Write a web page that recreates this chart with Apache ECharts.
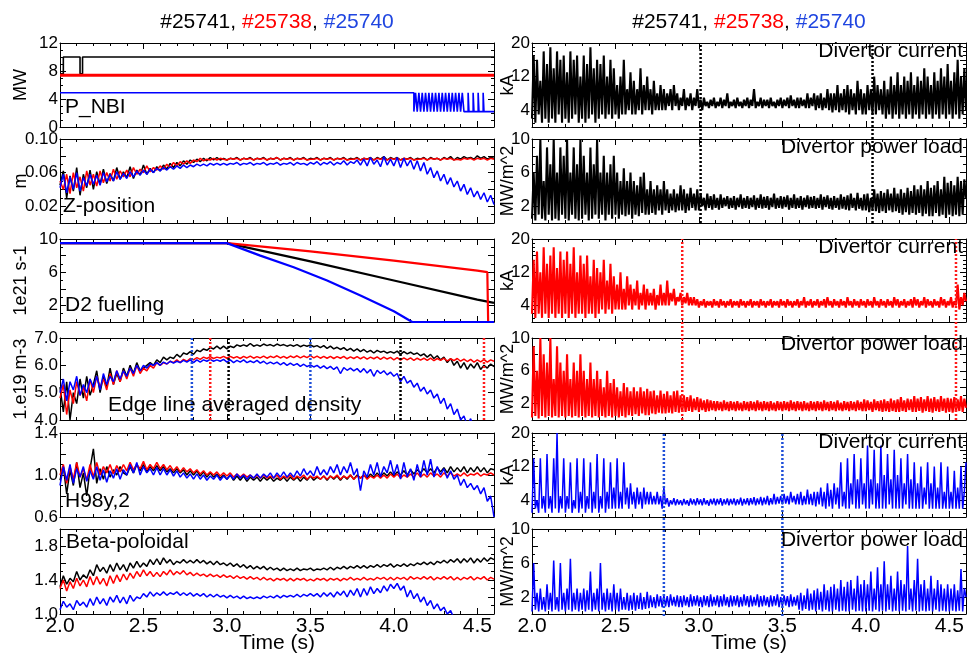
<!DOCTYPE html>
<html>
<head>
<meta charset="utf-8">
<script src="https://cdn.jsdelivr.net/npm/echarts@6/dist/echarts.min.js"></script>
<style>
  html, body { margin: 0; padding: 0; background: #fff; }
  #chart { width: 971px; height: 655px; }
</style>
</head>
<body>
<div id="chart"></div>
<script>
// time base: every noisy trace starts at 2.0 s, sampled with a fixed step
const T0 = 2.0;
const TEND = 4.6;
const DT_L = 0.02; // left column traces
const DT_R = 0.01; // divertor traces

// ---- P_NBI (MW), step traces: time of each change and the new value
const nbiBlackT = [2.0, 2.02, 2.12, 2.135, 4.6];
const nbiBlackV = [7.6, 10, 7.6, 10, 10];
const nbiRedT = [2.0, 4.6];
const nbiRedV = [7.4, 7.4];
const nbiBlueT = [2.0, 4.12, 4.13, 4.14, 4.15, 4.16, 4.17, 4.18, 4.19, 4.20, 4.21, 4.22, 4.23, 4.24, 4.25,
  4.26, 4.27, 4.28, 4.29, 4.30, 4.31, 4.32, 4.33, 4.34, 4.35, 4.36, 4.37, 4.38, 4.39, 4.40, 4.41, 4.42,
  4.445, 4.45, 4.475, 4.48, 4.505, 4.51, 4.535, 4.54, 4.6];
const nbiBlueV = [4.9, 2.2, 4.9, 2.2, 4.9, 2.2, 4.9, 2.2, 4.9, 2.2, 4.9, 2.2, 4.9, 2.2, 4.9,
  2.2, 4.9, 2.2, 4.9, 2.2, 4.9, 2.2, 4.9, 2.2, 4.9, 2.2, 4.9, 2.2, 4.9, 2.2, 4.9, 2.2,
  4.9, 2.2, 4.9, 2.2, 4.9, 2.2, 4.9, 2.2, 2.2];

// ---- Z-position (m)
const zBlack = [
  .045,.062,.030,.056,.038,.066,.033,.058,.042,.063,
  .040,.061,.046,.064,.047,.059,.050,.066,.052,.061,
  .054,.067,.053,.063,.057,.069,.058,.065,.060,.067,
  .062,.069,.064,.071,.066,.072,.068,.074,.070,.075,
  .072,.076,.073,.077,.074,.078,.075,.078,.075,.077,
  .075,.077,.076,.078,.075,.077,.076,.078,.075,.077,
  .076,.078,.075,.077,.076,.078,.075,.077,.076,.078,
  .075,.077,.076,.078,.075,.077,.076,.078,.075,.077,
  .076,.078,.075,.077,.076,.078,.075,.077,.076,.078,
  .075,.077,.076,.078,.075,.078,.076,.079,.075,.078,
  .076,.078,.075,.077,.076,.078,.075,.077,.076,.078,
  .075,.078,.076,.077,.075,.078,.076,.079,.075,.078,
  .076,.079,.077,.078,.076,.080,.077,.079,.076,.078,
  .077];
const zRed = [
  .050,.040,.058,.035,.060,.042,.055,.038,.062,.045,
  .058,.044,.062,.048,.060,.050,.064,.052,.062,.055,
  .063,.055,.066,.058,.064,.060,.068,.061,.066,.063,
  .068,.064,.070,.066,.072,.068,.073,.070,.074,.071,
  .075,.073,.077,.074,.076,.075,.077,.075,.077,.076,
  .075,.077,.076,.077,.075,.077,.076,.077,.075,.077,
  .076,.077,.075,.077,.076,.078,.075,.077,.076,.077,
  .075,.077,.076,.077,.075,.076,.076,.077,.075,.077,
  .076,.077,.075,.077,.076,.077,.075,.076,.076,.077,
  .075,.077,.076,.077,.075,.077,.076,.077,.075,.077,
  .076,.077,.075,.077,.076,.077,.075,.076,.076,.077,
  .075,.077,.076,.077,.075,.077,.076,.077,.075,.076,
  .075,.077,.076,.077,.075,.077,.076,.077,.075,.077,
  .076];
const zBlue = [
  .042,.058,.036,.055,.040,.060,.038,.054,.044,.058,
  .046,.057,.045,.060,.049,.058,.050,.061,.052,.059,
  .053,.061,.055,.062,.057,.063,.058,.064,.060,.065,
  .062,.066,.063,.067,.064,.068,.065,.069,.066,.069,
  .067,.070,.068,.070,.068,.071,.069,.071,.069,.071,
  .069,.071,.070,.072,.069,.071,.070,.072,.069,.071,
  .070,.072,.069,.071,.070,.072,.069,.071,.070,.072,
  .069,.072,.070,.071,.069,.072,.070,.073,.069,.072,
  .070,.073,.069,.072,.070,.074,.069,.073,.071,.075,
  .069,.076,.068,.078,.070,.075,.067,.079,.069,.076,
  .068,.078,.066,.077,.068,.075,.064,.074,.062,.072,
  .058,.066,.054,.062,.050,.058,.046,.054,.043,.050,
  .038,.046,.034,.042,.031,.038,.028,.036,.025,.033,
  .022];

// ---- D2 fuelling (1e21 s-1), knots of the ramps
const d2BlackT = [2.0, 3.0, 3.5, 4.0, 4.5, 4.6];
const d2BlackV = [9.5, 9.5, 7.3, 5.0, 2.7, 2.3];
const d2RedT = [2.0, 3.0, 3.5, 4.0, 4.5, 4.56, 4.565, 4.6];
const d2RedV = [9.5, 9.5, 8.5, 7.4, 6.2, 6.0, 0, 0];
const d2BlueT = [2.0, 3.0, 3.2, 3.4, 3.6, 3.8, 4.0, 4.11, 4.6];
const d2BlueV = [9.5, 9.5, 8.0, 6.6, 5.0, 3.2, 1.3, 0, 0];

// ---- Edge line averaged density (1e19 m-3)
const neBlack = [
  5.2,4.3,5.4,4.0,5.0,4.6,5.5,4.8,5.6,4.9,
  5.3,5.8,5.0,5.6,5.2,5.9,5.3,5.7,5.4,5.9,
  5.6,6.0,5.7,6.1,5.8,5.9,6.0,6.1,6.0,6.2,
  6.1,6.3,6.2,6.3,6.25,6.4,6.3,6.45,6.4,6.5,
  6.4,6.55,6.5,6.6,6.55,6.65,6.6,6.7,6.6,6.7,
  6.6,6.7,6.65,6.75,6.7,6.75,6.7,6.8,6.7,6.75,
  6.7,6.78,6.72,6.76,6.7,6.78,6.72,6.76,6.7,6.75,
  6.7,6.76,6.68,6.74,6.7,6.75,6.68,6.72,6.65,6.72,
  6.62,6.7,6.6,6.66,6.58,6.65,6.55,6.62,6.52,6.6,
  6.5,6.58,6.48,6.55,6.45,6.55,6.48,6.52,6.45,6.5,
  6.45,6.52,6.4,6.5,6.42,6.48,6.4,6.45,6.35,6.42,
  6.3,6.4,6.25,6.35,6.2,6.3,6.1,6.25,6.0,6.15,
  5.9,6.1,5.85,6.05,5.9,6.1,5.85,6.0,5.9,6.05,
  5.95];
const neRed = [
  4.8,5.3,4.2,5.1,4.6,5.4,4.9,5.2,4.7,5.5,
  5.0,5.6,5.2,5.5,5.1,5.7,5.3,5.8,5.4,5.8,
  5.5,5.9,5.6,6.0,5.7,5.9,5.8,6.0,5.9,6.1,
  6.0,6.1,6.05,6.15,6.1,6.2,6.1,6.22,6.15,6.25,
  6.2,6.28,6.22,6.3,6.25,6.32,6.25,6.3,6.27,6.33,
  6.26,6.33,6.27,6.32,6.25,6.33,6.27,6.34,6.26,6.32,
  6.27,6.34,6.26,6.33,6.28,6.35,6.27,6.33,6.26,6.34,
  6.28,6.35,6.27,6.34,6.28,6.36,6.27,6.34,6.26,6.33,
  6.26,6.33,6.25,6.32,6.26,6.33,6.24,6.31,6.25,6.32,
  6.24,6.31,6.23,6.3,6.24,6.31,6.22,6.3,6.23,6.29,
  6.2,6.28,6.19,6.27,6.2,6.27,6.18,6.26,6.19,6.26,
  6.18,6.26,6.17,6.25,6.18,6.26,6.16,6.24,6.17,6.25,
  6.15,6.23,6.14,6.22,6.12,6.2,6.13,6.21,6.12,6.2,
  6.15];
const neBlue = [
  5.0,5.5,4.7,5.4,5.1,5.6,4.9,5.3,5.0,5.5,
  5.2,5.6,5.1,5.7,5.3,5.6,5.4,5.8,5.5,5.8,
  5.6,5.9,5.7,6.0,5.8,6.0,5.9,6.05,6.0,6.1,
  6.0,6.12,6.05,6.15,6.08,6.15,6.1,6.18,6.12,6.2,
  6.1,6.2,6.12,6.2,6.15,6.22,6.15,6.2,6.15,6.22,
  6.12,6.2,6.1,6.18,6.12,6.2,6.1,6.16,6.1,6.18,
  6.08,6.15,6.05,6.12,6.05,6.12,6.02,6.1,6.0,6.08,
  6.0,6.06,5.96,6.04,5.95,6.02,5.94,6.0,5.9,5.98,
  5.88,5.96,5.85,5.94,5.7,5.92,5.82,5.9,5.8,5.88,
  5.75,5.88,5.72,5.85,5.6,5.82,5.7,5.8,5.65,5.75,
  5.6,5.7,5.4,5.6,5.35,5.45,5.2,5.35,5.05,5.2,
  4.95,5.1,4.8,4.95,4.6,4.8,4.4,4.6,4.2,4.4,
  4.0,4.15,3.8,4.05,3.7,3.9,3.6,3.8,3.5,3.7,
  3.5];

// ---- H98y,2
const hBlack = [
  0.95,1.08,0.82,1.05,0.9,1.12,0.88,1.02,0.8,1.06,
  1.25,0.92,1.06,0.96,1.08,0.98,1.05,1.0,1.08,1.02,
  1.0,1.08,1.02,1.1,1.04,1.1,1.03,1.08,1.04,1.09,
  1.04,1.08,1.03,1.06,1.02,1.06,1.02,1.05,1.0,1.04,
  1.0,1.04,0.99,1.03,0.98,1.02,0.98,1.01,0.97,1.0,
  0.96,1.0,0.95,0.99,0.95,0.99,0.94,0.98,0.95,0.98,
  0.94,0.98,0.95,0.98,0.94,0.97,0.95,0.98,0.94,0.98,
  0.95,0.98,0.94,0.98,0.95,0.99,0.95,0.98,0.96,0.99,
  0.95,0.99,0.96,0.99,0.95,0.99,0.96,1.0,0.96,1.0,
  0.97,1.0,0.97,1.01,0.98,1.02,0.98,1.02,0.99,1.03,
  0.99,1.03,1.0,1.04,1.0,1.05,1.01,1.05,1.02,1.06,
  1.02,1.06,1.02,1.07,1.03,1.07,1.02,1.08,1.03,1.07,
  1.03,1.08,1.02,1.07,1.03,1.08,1.03,1.07,1.02,1.06,
  1.05];
const hRed = [
  1.0,1.1,0.92,1.08,0.96,1.12,0.98,1.06,0.95,1.1,
  0.98,1.12,1.0,1.08,1.02,1.1,1.01,1.09,1.03,1.1,
  1.04,1.12,1.05,1.1,1.06,1.13,1.05,1.1,1.06,1.12,
  1.06,1.1,1.05,1.09,1.04,1.08,1.03,1.07,1.03,1.06,
  1.02,1.05,1.01,1.04,1.0,1.03,1.0,1.03,0.99,1.02,
  0.99,1.02,0.98,1.01,0.98,1.01,0.98,1.0,0.97,1.0,
  0.97,1.0,0.97,0.99,0.97,1.0,0.96,0.99,0.97,1.0,
  0.96,0.99,0.97,1.0,0.96,0.99,0.97,0.99,0.96,0.99,
  0.96,0.99,0.97,1.0,0.96,0.99,0.97,1.0,0.96,0.99,
  0.97,1.0,0.96,0.99,0.97,1.0,0.97,1.0,0.97,1.01,
  0.98,1.01,0.97,1.0,0.98,1.01,0.98,1.02,0.98,1.01,
  0.98,1.02,0.99,1.01,0.98,1.02,0.99,1.02,0.99,1.01,
  0.99,1.02,0.99,1.01,1.0,1.02,0.99,1.01,1.0,1.02,
  1.0];
const hBlue = [
  0.9,1.08,0.95,1.1,0.92,1.06,0.98,1.08,0.94,1.04,
  0.96,1.08,0.95,1.05,0.93,1.04,0.97,1.06,0.96,1.05,
  1.0,1.1,1.02,1.12,1.0,1.08,1.02,1.06,1.0,1.07,
  1.0,1.06,1.0,1.05,0.99,1.04,0.98,1.02,0.97,1.01,
  0.96,1.01,0.96,1.0,0.95,0.99,0.96,1.0,0.95,0.99,
  0.96,1.0,0.96,1.01,0.97,1.0,0.96,1.0,0.97,1.01,
  0.97,1.01,0.98,1.02,0.97,1.02,0.98,1.03,0.98,1.02,
  0.98,1.04,0.99,1.06,1.0,1.04,0.99,1.08,1.0,1.05,
  1.0,1.08,1.02,1.1,1.0,1.08,1.02,1.12,1.0,1.06,
  0.85,1.04,0.98,1.1,1.0,1.12,0.98,1.08,1.02,1.14,
  1.0,1.1,0.96,1.12,0.98,1.06,0.95,1.1,0.98,1.14,
  1.0,1.15,0.98,1.08,1.0,1.06,0.97,1.04,0.96,1.0,
  0.9,0.96,0.88,0.92,0.86,0.9,0.82,0.88,0.75,0.8,
  0.6];

// ---- Beta-poloidal
const bpBlack = [
  1.32,1.45,1.35,1.42,1.38,1.5,1.4,1.46,1.42,1.52,
  1.45,1.58,1.5,1.55,1.48,1.58,1.5,1.6,1.52,1.58,
  1.5,1.6,1.54,1.62,1.55,1.6,1.56,1.64,1.58,1.65,
  1.58,1.66,1.6,1.64,1.58,1.62,1.6,1.64,1.6,1.63,
  1.6,1.64,1.6,1.63,1.59,1.62,1.58,1.62,1.58,1.6,
  1.57,1.6,1.56,1.59,1.55,1.58,1.54,1.57,1.53,1.56,
  1.53,1.56,1.52,1.55,1.52,1.54,1.51,1.54,1.51,1.53,
  1.51,1.54,1.51,1.53,1.52,1.54,1.51,1.53,1.52,1.54,
  1.52,1.55,1.52,1.55,1.53,1.56,1.53,1.56,1.54,1.57,
  1.54,1.57,1.54,1.57,1.55,1.58,1.55,1.58,1.56,1.59,
  1.55,1.58,1.56,1.59,1.56,1.59,1.57,1.6,1.58,1.61,
  1.58,1.61,1.58,1.62,1.6,1.63,1.6,1.64,1.61,1.65,
  1.6,1.65,1.61,1.66,1.6,1.65,1.61,1.66,1.62,1.66,
  1.64];
const bpRed = [
  1.3,1.4,1.27,1.38,1.3,1.42,1.33,1.4,1.32,1.44,
  1.34,1.44,1.35,1.42,1.33,1.45,1.36,1.46,1.38,1.47,
  1.4,1.48,1.42,1.5,1.44,1.52,1.45,1.5,1.44,1.49,
  1.44,1.5,1.46,1.52,1.46,1.5,1.47,1.51,1.46,1.49,
  1.45,1.48,1.45,1.47,1.44,1.47,1.44,1.46,1.43,1.46,
  1.43,1.45,1.42,1.45,1.42,1.44,1.41,1.44,1.41,1.43,
  1.4,1.43,1.4,1.42,1.39,1.42,1.4,1.42,1.39,1.42,
  1.39,1.42,1.4,1.42,1.39,1.41,1.39,1.42,1.4,1.42,
  1.39,1.42,1.4,1.42,1.39,1.42,1.4,1.43,1.4,1.42,
  1.4,1.43,1.4,1.42,1.4,1.43,1.41,1.43,1.4,1.43,
  1.4,1.43,1.41,1.43,1.4,1.44,1.41,1.43,1.41,1.44,
  1.41,1.44,1.4,1.43,1.41,1.44,1.41,1.44,1.4,1.43,
  1.4,1.43,1.41,1.44,1.4,1.43,1.41,1.44,1.4,1.43,
  1.41];
const bpBlue = [
  1.05,1.15,1.08,1.12,1.05,1.16,1.1,1.14,1.08,1.18,
  1.1,1.2,1.12,1.18,1.1,1.2,1.14,1.22,1.13,1.2,
  1.12,1.22,1.15,1.2,1.18,1.24,1.2,1.26,1.21,1.25,
  1.22,1.26,1.22,1.25,1.23,1.26,1.22,1.25,1.22,1.25,
  1.21,1.24,1.21,1.24,1.2,1.23,1.2,1.23,1.2,1.22,
  1.19,1.22,1.19,1.21,1.18,1.21,1.18,1.2,1.18,1.2,
  1.18,1.21,1.19,1.21,1.19,1.22,1.19,1.22,1.2,1.22,
  1.2,1.23,1.2,1.23,1.21,1.24,1.21,1.24,1.2,1.25,
  1.21,1.25,1.2,1.26,1.22,1.27,1.2,1.28,1.22,1.3,
  1.2,1.3,1.22,1.32,1.24,1.3,1.25,1.33,1.27,1.35,
  1.3,1.36,1.28,1.33,1.2,1.28,1.18,1.24,1.14,1.2,
  1.1,1.16,1.06,1.12,1.04,1.08,1.0,1.04,0.95,0.98,
  0.92,0.95,0.88,0.9,0.85,0.88,0.82,0.85,0.8,0.82,
  0.8];

// ---- Divertor current (kA) and power load (MW/m^2), 0.01 s samples
const divCurBlack = [
  2,17,1,16,3,11,1,18,2,15, 1,19,2,14,1,18,3,16,1,17,
  2,13,1,18,2,16,3,17,1,12, 2,17,1,15,2,19,3,14,1,16,
  2,15,3,17,2,12,3,16,2,14, 3,10,2,12,3,16,3,9,4,13,
  3,11,3,9,4,14,3,10,4,12, 4,9,3,11,4,8,4,10,4,9,
  4,8,5,9,4,10,5,8,4,7, 5,9,4,7,5,8,4,7,5,9,
  4.5,6.5,4,7,5,6,4.5,6.5,5,7, 4.5,6,5,7,4.5,6.5,5,8,4.5,6,
  5,6.5,4.5,7,5,6,4.5,6.5,5,7, 4.5,6.5,5,9,4.5,6,5,7,4.5,6.5,
  5,6.5,4.5,7,5,6,4.5,6.5,5,7, 4.5,6.5,5,7,4.5,7.5,5,6.5,4.5,7,
  4.5,7,5,6.5,4.5,8,4.5,7,5,8, 4,7.5,4.5,8,4,7,4.5,9,4,8,
  3.5,8,4,10,3.5,8,4,9,3.5,10, 3,9,4,8,3,11,4,9,3,8,
  3,10,4,9,3,12,3,10,4,9, 3,11,2,9,3,12,2,10,3,13,
  2,10,3,12,2,11,3,13,2,10, 3,12,2,11,3,14,2,12,3,10,
  2,13,3,11,2,14,3,12,2,15, 3,11,2,13,3,16,2,12,3,14,
  4];
const divPowBlack = [
  0.5,6,0.3,8,1,10,0.5,5,0.3,9, 1,7,0.3,10,0.5,6,0.3,9,1,8,
  0.5,10,0.3,6,1,9,0.5,7,0.3,10, 0.5,8,1,6,0.3,9,0.5,7,1,10,
  0.5,6,1,8,0.3,6,1,7,0.5,8, 1,6,0.5,5,1,6.5,0.8,5,1,6,
  0.5,5,1,4.5,0.8,5.5,1.2,6,1,4, 1,5,1.2,4,1,4.5,1.5,4,1,5,
  1.5,4,1.2,3.5,1.5,4,1.3,3.5,1.5,4.5, 1.5,4,1.2,3.5,1.5,4.2,1.8,3.5,1.5,4,
  1.5,3.5,2,3,1.5,3.5,1.8,3.2,1.6,3.4, 1.8,3,1.6,3.4,1.8,3,2,3.2,1.7,3,
  1.8,3.2,1.6,3,1.9,3.4,1.7,3,1.8,3.2, 1.7,3,1.9,3.3,1.6,3,1.8,3.4,1.7,3.1,
  1.8,3.2,1.6,3,1.9,3.5,1.7,3,1.8,3.2, 1.7,3.1,1.9,3.3,1.6,3,1.8,3.4,1.7,3,
  1.8,3.2,1.6,3,1.9,3.3,1.7,3.1,1.8,3.2, 1.7,3,1.8,3.4,1.6,3.1,1.9,3.3,1.7,3,
  1.6,3.2,1.8,3,1.6,3.4,1.7,3.1,1.6,3.3, 1.5,3.5,1.8,3,1.5,3.6,1.7,3,1.5,3.4,
  1.5,3.5,1.3,3,1.6,4,1.4,3.5,1.2,3.8, 1.4,3.6,1.2,4,1.5,3.5,1.3,4.2,1.4,3.5,
  1.2,4,1,3.6,1.3,4.2,1,3.8,1.2,4.5, 1,4,1.2,4.5,0.8,4,1.1,5,0.8,4.2,
  0.8,4.5,1.2,5,0.8,4,1,5.5,0.6,4.8, 1,5,0.8,4.5,1,5.5,0.8,5,1,5.2,
  3];
const divCurRed = [
  2,15,1,17,2,12,1,18,2,14, 1,16,2,18,1,13,2,17,1,15,
  2,17,1,14,2,18,1,12,2,16, 2,14,1,16,2,11,2,15,1,13,
  2,12,3,15,2,10,3,14,2,11, 3,9,3,12,3,8,3,11,4,9,
  3,8,4,10,3,7,4,9,3,8, 4,7,4,8,3,6.5,4,9,4,7,
  4,10,4,7,5,8,4,6,5,7, 4,6,4.5,7,4,6,4,6,4,5.5,
  3.5,5,4,5.5,3.5,5,4,5,3.5,5.5, 4,5,3.5,5.5,4,5,3.5,5,4,5.5,
  3.5,5,4,5,3.5,5.5,4,5,3.5,5, 4,5.5,3.5,5,4,5,3.5,5.5,4,5,
  3.5,5,4,5.5,3.5,5,4,5,3.5,5.5, 4,5,3.5,5.5,4,5,3.5,5,4,5.5,
  3.5,5,4,6,3.5,5,4,5.5,3.5,5, 4,5.5,3.5,5,4,5.5,3.5,6,4,5,
  3.5,5.5,4,5,3.5,5.5,4,5,3.5,6, 4,5,3.5,5.5,4,5,3.5,5.5,4,5,
  3.5,5.5,4,5,3.5,6,4,5,3.5,5.5, 4,5,3.5,5.5,4,5,3.5,6,4,5.5,
  3.5,5,4,5.5,3.5,5,4,5.5,3.5,6, 4,5.5,3.5,5,4,6,3.5,5.5,4,5,
  3.5,5.5,4,5,3.5,6,4,5.5,3.5,5, 4,6,3.5,5,4,9,3,6,4,7,
  5];
const divPowRed = [
  0.3,9,0.5,6,0.2,10,0.5,8,0.3,7, 0.5,10,0.3,5,0.5,9,0.3,7,0.5,6,
  0.3,8,0.5,5,0.3,7,0.5,6,0.3,8, 0.5,6,0.3,5,0.5,7,0.3,5,0.5,6,
  0.3,5,0.5,4,0.3,6,0.5,4.5,0.3,5, 0.5,4,0.3,3.5,0.5,4.5,0.3,4,0.6,3.5,
  0.5,4,0.7,3.5,0.5,4,0.8,3.5,0.6,3.8, 0.6,3.5,0.8,3.6,0.7,3,0.9,3.6,0.8,3.2,
  0.8,3.5,0.9,3,0.8,3.5,1,3.6,0.9,3, 1,3,1,2.8,1.1,3,1,2.6,1.2,2.8,
  1,2.6,1.2,2.4,1,2.5,1.1,2.4,1.2,2.3, 1.1,2.3,1.2,2.2,1.1,2.4,1.2,2.2,1.1,2.3,
  1.2,2.2,1.1,2.3,1.2,2.1,1.1,2.3,1.2,2.2, 1.1,2.3,1.2,2.2,1.1,2.4,1.2,2.2,1.1,2.3,
  1.2,2.2,1.1,2.3,1.2,2.1,1.1,2.3,1.2,2.2, 1.1,2.3,1.2,2.2,1.1,2.4,1.2,2.2,1.1,2.3,
  1.2,2.2,1.1,2.3,1.2,2.1,1.1,2.3,1.2,2.2, 1.1,2.3,1.2,2.2,1.1,2.4,1.2,2.2,1.1,2.3,
  1.2,2.2,1.1,2.4,1.2,2.1,1.1,2.3,1.2,2.2, 1.1,2.3,1.2,2.2,1.1,2.4,1.2,2.2,1.1,2.5,
  1.1,2.4,1.2,2.2,1.0,2.5,1.2,2.3,1.1,2.4, 1.0,2.5,1.1,2.3,1.0,2.6,1.1,2.4,1.0,2.5,
  1.0,2.8,1.1,2.4,1,2.6,1.2,2.5,1,2.9, 1.0,2.6,1.1,2.8,0.9,2.5,1.1,2.9,1.0,2.6,
  0.9,2.8,1.1,2.5,1.0,2.9,1.1,2.6,0.9,2.7, 1.0,2.6,0.9,2.8,1.0,2.5,1.1,2.9,1.0,2.6,
  1.5];
const divCurBlue = [
  1,14,2,4,1,14,2,5,1,15, 2,5,1,14,2,20,1,5,2,14,
  1,5,2,13,1,4,2,14,1,6, 2,14,1,5,2,13,1,6,2,15,
  1,5,2,14,1,6,2,13,2,7, 2,14,2,6,2,13,3,7,2,8,
  3,6,2,7,3,6,2,7,3,6, 3,6,3,5,3,6,3,5,2,7,
  3,4.5,2.5,4,3,4.5,2.8,4.2,3,4, 2.8,4.3,3,4,2.7,4.4,3,4.2,2.8,4.5,
  3,4.2,2.8,4.5,3,4,2.7,4.3,3,4.4, 2.8,4.3,3,4.5,2.7,4.2,3,4.4,2.8,4.3,
  3,4.4,2.8,4.2,3,4.6,2.7,4.3,3,4.5, 2.8,4.5,3,4.7,2.8,4.4,3,4.8,2.8,4.6,
  3,5,2.8,4.5,3,5.5,3,4.8,3.2,5, 3,5.5,3.2,5,3,6,3.5,5,3,5.5,
  3,6,2.8,5,3,6.5,3,5.5,2.8,6, 2.5,6,3,7,2.5,6,2,8,2.5,6.5,
  2,8,3,7,2,13,2.5,6,2,14, 2,8,3,15,2,9,2,14,3,8,
  2,17,2,9,3,16,2,8,2,17, 2,10,2,15,3,9,2,16,2,10,
  2,14,2,8,3,15,2,9,2,13, 2,8,2,12,2,7,3,13,2,8,
  2,12,2,7,2,13,2,6,2,12, 2,6,2,11,2,7,2,12,2,6,
  13];
const divPowBlue = [
  0.3,6,0.5,2.5,0.3,3,0.5,2,0.3,3.5, 0.5,2.5,0.3,6.3,0.5,2,0.3,6,0.5,2.5,
  0.3,3,0.5,6.5,0.3,2.5,0.5,3,0.3,2.5, 0.5,3,0.3,2.8,0.5,5,0.3,2.5,0.5,3,
  0.3,6,0.5,2.5,0.3,3,0.5,2.5,0.3,3.5, 0.5,2.5,0.3,3,0.5,2,0.5,2.5,0.4,2.2,
  0.5,2.5,0.4,2.2,0.6,2.5,0.5,2,0.6,2.6, 0.7,2.2,0.8,2,0.7,2.3,0.9,2.1,0.8,2.2,
  0.9,2.1,0.8,2.3,1,2,0.9,2.2,0.8,2.1, 0.8,2.2,1,2,0.8,2.3,0.9,2.1,1,2.2,
  0.9,2,0.8,2.2,1,2.1,0.8,2.3,0.9,2, 1,2.2,0.8,2.1,0.9,2.3,1,2,0.8,2.2,
  0.9,2.1,1,2.2,0.8,2,0.9,2.3,1,2.1, 0.8,2.2,0.9,2,1,2.3,0.8,2.1,0.9,2.2,
  1,2,0.8,2.2,0.9,2.1,1,2.3,0.8,2, 0.9,2.2,1,2.1,0.8,2.3,0.9,2,1,2.2,
  0.5,2.5,0.4,2.2,0.6,3,0.4,2.4,0.5,2.8, 0.3,3,0.5,2.6,0.3,3.5,0.5,2.8,0.3,3.2,
  0.3,3.5,0.5,3,0.3,4,0.4,3.2,0.3,3.8, 0.3,4,0.5,3,0.3,4.5,0.4,3.5,0.3,4,
  0.3,3.5,0.4,5,0.3,3,0.5,5.5,0.3,3.5, 0.4,6.2,0.3,3.5,0.5,4.5,0.3,3,0.4,5,
  0.3,4,0.4,3.5,0.3,8,0.5,3,0.3,4, 0.4,6.5,0.3,3.5,0.4,4,0.3,3,0.4,4.5,
  0.3,3,0.5,4,0.3,3.5,0.4,3,0.3,3.5, 0.3,3,0.4,3.5,0.3,2.8,0.4,5.3,0.3,3,
  2];

// ---- event times (vertical dotted lines)
const eventsBlack = [3.01, 4.04];
const eventsRed = [2.90, 4.54];
const eventsBlue = [2.79, 3.50];

const BLACK = '#000000';
const RED = '#ff0000';
const BLUE = '#0000ff';
const DOT_RED = '#ff1a1a';
const DOT_BLUE = '#1f4fd8';
const FONT = '"Liberation Sans", Arial, sans-serif';

const COLS = { L: { left: 60, width: 434 }, R: { left: 532, width: 434 } };
const ROWS = [
  { top: 43, height: 84 },
  { top: 139, height: 84 },
  { top: 239, height: 83 },
  { top: 338, height: 82 },
  { top: 433, height: 84 },
  { top: 529, height: 87 }
];

// one entry per panel, grid index = position in this list
const panels = [
  { col: 'L', row: 0, min: 0, max: 12, interval: 4, minor: 4, labels: [0, 4, 8, 12], dec: 0, name: 'MW', text: 'P_NBI', tx: 65, ty: 107 },
  { col: 'R', row: 0, min: 0, max: 20, interval: 4, minor: 4, labels: [4, 12, 20], dec: 0, name: 'kA', text: 'Divertor current', tx: 963, ty: 51 },
  { col: 'L', row: 1, min: 0, max: 0.1, interval: 0.02, minor: 2, labels: [0.02, 0.06, 0.1], dec: 2, name: 'm', text: 'Z-position', tx: 63, ty: 206 },
  { col: 'R', row: 1, min: 0, max: 10, interval: 2, minor: 2, labels: [2, 6, 10], dec: 0, name: 'MW/m^2', text: 'Divertor power load', tx: 963, ty: 147 },
  { col: 'L', row: 2, min: 0, max: 10, interval: 2, minor: 2, labels: [2, 6, 10], dec: 0, name: '1e21 s-1', text: 'D2 fuelling', tx: 65, ty: 305 },
  { col: 'R', row: 2, min: 0, max: 20, interval: 4, minor: 4, labels: [4, 12, 20], dec: 0, name: 'kA', text: 'Divertor current', tx: 963, ty: 247 },
  { col: 'L', row: 3, min: 4, max: 7, interval: 1, minor: 2, labels: [4, 5, 6, 7], dec: 1, name: '1.e19 m-3', text: 'Edge line averaged density', tx: 108, ty: 405 },
  { col: 'R', row: 3, min: 0, max: 10, interval: 2, minor: 2, labels: [2, 6, 10], dec: 0, name: 'MW/m^2', text: 'Divertor power load', tx: 963, ty: 344 },
  { col: 'L', row: 4, min: 0.6, max: 1.4, interval: 0.2, minor: 2, labels: [0.6, 1.0, 1.4], dec: 1, name: '', text: 'H98y,2', tx: 65, ty: 501 },
  { col: 'R', row: 4, min: 0, max: 20, interval: 4, minor: 4, labels: [4, 12, 20], dec: 0, name: 'kA', text: 'Divertor current', tx: 963, ty: 442 },
  { col: 'L', row: 5, min: 1.0, max: 2.0, interval: 0.2, minor: 2, labels: [1.0, 1.4, 1.8], dec: 1, name: '', text: 'Beta-poloidal', tx: 66, ty: 542 },
  { col: 'R', row: 5, min: 0, max: 10, interval: 2, minor: 2, labels: [2, 6, 10], dec: 0, name: 'MW/m^2', text: 'Divertor power load', tx: 963, ty: 540 }
];

function xAxisCfg(g, pos, withLabels) {
  return {
    type: 'value', gridIndex: g, position: pos, min: T0, max: TEND, interval: 0.5,
    axisLine: { show: true, onZero: false, lineStyle: { color: BLACK, width: 1 } },
    axisTick: { show: true, inside: true, length: 6, lineStyle: { color: BLACK } },
    minorTick: { show: true, splitNumber: 5, length: 3, lineStyle: { color: BLACK } },
    splitLine: { show: false },
    axisLabel: {
      show: withLabels, showMaxLabel: false, margin: 2, fontSize: 21, color: BLACK, fontFamily: FONT,
      formatter: (v) => v.toFixed(1)
    },
    name: withLabels ? 'Time (s)' : '', nameLocation: 'middle', nameGap: 19, nameMoveOverlap: false,
    nameTextStyle: { fontSize: 21, color: BLACK, fontFamily: FONT }
  };
}

function yAxisCfg(p, g, pos) {
  const isLeft = pos === 'left';
  return {
    type: 'value', gridIndex: g, position: pos, min: p.min, max: p.max, interval: p.interval,
    axisLine: { show: true, onZero: false, lineStyle: { color: BLACK, width: 1 } },
    axisTick: { show: true, inside: true, length: 6, lineStyle: { color: BLACK } },
    minorTick: { show: true, splitNumber: p.minor, length: 3, lineStyle: { color: BLACK } },
    splitLine: { show: false },
    axisLabel: {
      show: isLeft, margin: 2, fontSize: 17, color: BLACK, fontFamily: FONT,
      formatter: (v) => (p.labels.some((l) => Math.abs(l - v) < 1e-6) ? v.toFixed(p.dec) : '')
    },
    name: isLeft ? p.name : '', nameLocation: 'middle', nameGap: p.col === 'L' ? 30 : 15,
    nameMoveOverlap: false,
    nameTextStyle: { fontSize: 18, color: BLACK, fontFamily: FONT }
  };
}

function sampled(values, dt, color, g, width) {
  return {
    type: 'line', xAxisIndex: 2 * g, yAxisIndex: 2 * g, symbol: 'none', silent: true, clip: true,
    data: values.map((v, i) => [+(T0 + i * dt).toFixed(3), v]),
    lineStyle: { color: color, width: width }
  };
}

function knots(ts, vs, color, g, width, step) {
  const s = {
    type: 'line', xAxisIndex: 2 * g, yAxisIndex: 2 * g, symbol: 'none', silent: true, clip: true,
    data: ts.map((t, i) => [t, vs[i]]),
    lineStyle: { color: color, width: width }
  };
  if (step) s.step = 'end';
  return s;
}

function dotted(times, color, xi, yi, y0, y1) {
  return times.map((t) => ({
    type: 'line', xAxisIndex: xi, yAxisIndex: yi, symbol: 'none', silent: true, clip: false,
    data: [[t, y0], [t, y1]],
    lineStyle: { color: color, width: 2.5, type: [2, 2] },
    z: 5
  }));
}

const option = {
  animation: false,
  backgroundColor: '#ffffff',
  textStyle: { fontFamily: FONT },
  grid: [], xAxis: [], yAxis: [], series: [], graphic: []
};

panels.forEach((p, g) => {
  const col = COLS[p.col];
  const row = ROWS[p.row];
  option.grid.push({ left: col.left, width: col.width, top: row.top, height: row.height });
  option.xAxis.push(xAxisCfg(g, 'bottom', p.row === 5));
  option.xAxis.push(xAxisCfg(g, 'top', false));
  option.yAxis.push(yAxisCfg(p, g, 'left'));
  option.yAxis.push(yAxisCfg(p, g, 'right'));
  option.graphic.push({
    type: 'text', x: p.tx, y: p.ty, silent: true, z: 100,
    style: {
      text: p.text, font: '21px ' + FONT, fill: BLACK,
      textAlign: p.col === 'L' ? 'left' : 'right', textVerticalAlign: 'middle', verticalAlign: 'middle'
    }
  });
});

// overlay grids spanning each pair of divertor panels, for the event lines
const pairs = [[0, 1, eventsBlack, BLACK], [2, 3, eventsRed, DOT_RED], [4, 5, eventsBlue, DOT_BLUE]];
pairs.forEach(([a, b], k) => {
  const gi = panels.length + k;
  option.grid.push({
    left: COLS.R.left, width: COLS.R.width, top: ROWS[a].top,
    height: ROWS[b].top + ROWS[b].height - ROWS[a].top
  });
  option.xAxis.push({ type: 'value', gridIndex: gi, show: false, min: T0, max: TEND });
  option.yAxis.push({ type: 'value', gridIndex: gi, show: false, min: 0, max: 1 });
});

const S = option.series;
// P_NBI
S.push(knots(nbiBlackT, nbiBlackV, BLACK, 0, 1.6, true));
S.push(knots(nbiRedT, nbiRedV, RED, 0, 3, false));
S.push(knots(nbiBlueT, nbiBlueV, BLUE, 0, 1.6, true));
// Z-position
S.push(sampled(zBlack, DT_L, BLACK, 2, 1.5));
S.push(sampled(zRed, DT_L, RED, 2, 1.5));
S.push(sampled(zBlue, DT_L, BLUE, 2, 1.5));
// D2 fuelling
S.push(knots(d2BlackT, d2BlackV, BLACK, 4, 2.2, false));
S.push(knots(d2RedT, d2RedV, RED, 4, 2.2, false));
S.push(knots(d2BlueT, d2BlueV, BLUE, 4, 2.2, false));
// density
S.push(sampled(neBlack, DT_L, BLACK, 6, 1.5));
S.push(sampled(neRed, DT_L, RED, 6, 1.5));
S.push(sampled(neBlue, DT_L, BLUE, 6, 1.5));
// H98
S.push(sampled(hBlack, DT_L, BLACK, 8, 1.5));
S.push(sampled(hRed, DT_L, RED, 8, 1.5));
S.push(sampled(hBlue, DT_L, BLUE, 8, 1.5));
// beta-poloidal
S.push(sampled(bpBlack, DT_L, BLACK, 10, 1.5));
S.push(sampled(bpRed, DT_L, RED, 10, 1.5));
S.push(sampled(bpBlue, DT_L, BLUE, 10, 1.5));
// divertor
S.push(sampled(divCurBlack, DT_R, BLACK, 1, 2.1));
S.push(sampled(divPowBlack, DT_R, BLACK, 3, 2.1));
S.push(sampled(divCurRed, DT_R, RED, 5, 2.1));
S.push(sampled(divPowRed, DT_R, RED, 7, 2.1));
S.push(sampled(divCurBlue, DT_R, BLUE, 9, 1.5));
S.push(sampled(divPowBlue, DT_R, BLUE, 11, 1.5));

// event lines in the density panel
const ne = panels[6];
S.push(...dotted(eventsBlue, DOT_BLUE, 12, 12, ne.min, ne.max));
S.push(...dotted(eventsRed, DOT_RED, 12, 12, ne.min, ne.max));
S.push(...dotted(eventsBlack, BLACK, 12, 12, ne.min, ne.max));
// event lines across each divertor pair
pairs.forEach(([a, b, ev, c], k) => {
  const idx = panels.length * 2 + k;
  S.push(...dotted(ev, c, idx, idx, 0, 1));
});

// column headers with shot numbers
const headerRich = {
  k: { fill: BLACK, color: BLACK, font: '21px ' + FONT },
  r: { fill: RED, color: RED, font: '21px ' + FONT },
  b: { fill: '#1f45e0', color: '#1f45e0', font: '21px ' + FONT }
};
[COLS.L, COLS.R].forEach((c) => {
  option.graphic.push({
    type: 'text', x: c.left + c.width / 2, y: 22, silent: true,
    style: {
      text: '{k|#25741, }{r|#25738}{k|, }{b|#25740}', rich: headerRich,
      font: '21px ' + FONT, fill: BLACK, textAlign: 'center', textVerticalAlign: 'middle', verticalAlign: 'middle'
    }
  });
});

const chart = echarts.init(document.getElementById('chart'), null, { renderer: 'canvas' });
chart.setOption(option);
</script>
</body>
</html>
